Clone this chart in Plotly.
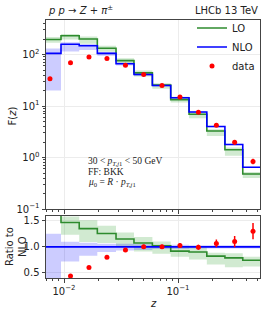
import numpy as np
import plotly.graph_objects as go

# ---------------- data ----------------
bin_edges = [0.00654, 0.00941, 0.0136, 0.0196, 0.0286, 0.0411, 0.0596,
             0.0863, 0.125, 0.179, 0.258, 0.370, 0.524]
z_data = [0.00753, 0.0114, 0.01656, 0.0238, 0.0346, 0.050, 0.0724,
          0.104, 0.151, 0.217, 0.314, 0.455]

lo_vals = [195, 232, 200, 132, 76, 44, 25.5, 13.3, 6.9, 3.28, 1.41, 0.478]
lo_band_lo = [0.87, 0.84, 0.81, 0.855, 0.875, 0.85, 0.85, 0.88, 0.84, 0.80, 0.77, 0.84]
lo_band_hi = [1.12, 1.08, 1.12, 1.12, 1.11, 1.11, 1.08, 1.09, 1.10, 1.08, 1.11, 1.09]

nlo_vals = [105, 158, 148, 105, 66, 41, 25.0, 14.5, 7.66, 3.99, 1.79, 0.645]
nlo_band_lo = [0.19, 0.72, 0.83, 0.90, 0.93, 0.94, 0.96, 0.96, 0.97, 0.97, 0.97, 0.97]
nlo_band_hi = [1.25, 1.10, 1.08, 1.06, 1.06, 1.05, 1.04, 1.04, 1.03, 1.03, 1.03, 1.03]

data_vals = [34, 69, 89, 84, 62, 41, 25.0, 14.9, 7.6, 4.25, 1.97, 0.84]
data_rel_err = [0.06, 0.04, 0.04, 0.04, 0.04, 0.04, 0.04, 0.04, 0.05, 0.07, 0.10, 0.12]

y_tick_vals = [0.1, 1, 10, 100]
y_tick_text = ["10<sup>−1</sup>", "10<sup>0</sup>", "10<sup>1</sup>", "10<sup>2</sup>"]
x_tick_vals = [0.01, 0.1]
x_tick_text = ["10<sup>−2</sup>", "10<sup>−1</sup>"]
r_tick_vals = [0.5, 1.0, 1.5]
r_tick_text = ["0.5", "1.0", "1.5"]

# ---------------- helpers ----------------
lo = np.array(lo_vals)
nlo = np.array(nlo_vals)
dat = np.array(data_vals)
edges = np.array(bin_edges)


def step_y(v):
    v = np.asarray(v, dtype=float)
    return np.append(v, v[-1])


GREEN = "#2e8b2e"
GREEN_FILL = "rgba(44,160,44,0.22)"
BLUE = "#0000ff"
BLUE_FILL = "rgba(0,0,255,0.2)"
RED = "#ff0000"

fig = go.Figure()


def add_band(lower, upper, fill, xa, ya):
    fig.add_trace(go.Scatter(x=edges, y=step_y(lower), mode="lines",
                             line=dict(width=0, shape="hv"), showlegend=False,
                             hoverinfo="skip", xaxis=xa, yaxis=ya))
    fig.add_trace(go.Scatter(x=edges, y=step_y(upper), mode="lines",
                             line=dict(width=0, shape="hv"), fill="tonexty",
                             fillcolor=fill, showlegend=False,
                             hoverinfo="skip", xaxis=xa, yaxis=ya))


# ---- top panel ----
add_band(lo * np.array(lo_band_lo), lo * np.array(lo_band_hi), GREEN_FILL, "x", "y")
add_band(nlo * np.array(nlo_band_lo), nlo * np.array(nlo_band_hi), BLUE_FILL, "x", "y")
fig.add_trace(go.Scatter(x=edges, y=step_y(lo), mode="lines", name="LO",
                         line=dict(color=GREEN, width=1.6, shape="hv"),
                         xaxis="x", yaxis="y"))
fig.add_trace(go.Scatter(x=edges, y=step_y(nlo), mode="lines", name="NLO",
                         line=dict(color=BLUE, width=1.6, shape="hv"),
                         xaxis="x", yaxis="y"))
fig.add_trace(go.Scatter(x=z_data, y=dat, mode="markers", name="data",
                         marker=dict(color=RED, size=5),
                         error_y=dict(type="data", array=dat * np.array(data_rel_err),
                                      color=RED, thickness=1.5, width=0),
                         xaxis="x", yaxis="y"))

# ---- ratio panel ----
add_band(np.array(lo_band_lo) * lo / nlo, np.array(lo_band_hi) * lo / nlo, GREEN_FILL, "x2", "y2")
add_band(nlo_band_lo, nlo_band_hi, BLUE_FILL, "x2", "y2")
fig.add_trace(go.Scatter(x=edges, y=step_y(lo / nlo), mode="lines", showlegend=False,
                         line=dict(color=GREEN, width=1.6, shape="hv"),
                         xaxis="x2", yaxis="y2"))
fig.add_trace(go.Scatter(x=edges, y=step_y(nlo / nlo), mode="lines", showlegend=False,
                         line=dict(color=BLUE, width=1.6, shape="hv"),
                         xaxis="x2", yaxis="y2"))
fig.add_trace(go.Scatter(x=z_data, y=dat / nlo, mode="markers", showlegend=False,
                         marker=dict(color=RED, size=5),
                         error_y=dict(type="data", array=dat * np.array(data_rel_err) / nlo,
                                      color=RED, thickness=1.5, width=0),
                         xaxis="x2", yaxis="y2"))

# ---------------- axes ----------------
minor_x = [m * 10.0 ** k for k in (-3, -2, -1) for m in range(2, 10)]
minor_y = [m * 10.0 ** k for k in (-1, 0, 1, 2) for m in range(2, 10)]
xr = [np.log10(0.00695), np.log10(0.524)]
axis_common = dict(showline=True, linecolor="#444", linewidth=1, mirror=True,
                   ticks="outside", ticklen=3.5, tickcolor="#444",
                   gridcolor="#ececec", gridwidth=1, zeroline=False,
                   tickfont=dict(family="DejaVu Sans", size=10, color="#222"))
minor_common = dict(ticks="outside", ticklen=2, tickcolor="#444", showgrid=False)

fig.update_layout(
    width=267, height=312,
    margin=dict(l=46, r=7, t=20, b=34),
    paper_bgcolor="white", plot_bgcolor="white",
    showlegend=True,
    legend=dict(x=1.0, y=1.025, xanchor="right", yanchor="top",
                bgcolor="rgba(255,255,255,0)", borderwidth=0, traceorder="normal",
                font=dict(family="DejaVu Sans", size=10, color="#222"),
                tracegroupgap=0, itemwidth=30),
    xaxis=dict(type="log", range=xr, domain=[0, 1], anchor="y",
               tickmode="array", tickvals=x_tick_vals, showticklabels=False,
               minor=dict(tickmode="array", tickvals=minor_x, **minor_common),
               **axis_common),
    yaxis=dict(type="log", range=[-1, 2.67], domain=[0.2674, 1], anchor="x",
               tickmode="array", tickvals=y_tick_vals, ticktext=y_tick_text,
               minor=dict(tickmode="array", tickvals=minor_y, **minor_common),
               **axis_common),
    xaxis2=dict(type="log", range=xr, domain=[0, 1], anchor="y2", matches="x",
                tickmode="array", tickvals=x_tick_vals, ticktext=x_tick_text,
                minor=dict(tickmode="array", tickvals=minor_x, **minor_common),
                **axis_common),
    yaxis2=dict(range=[0.4, 1.6], domain=[0, 0.2415], anchor="x2",
                tickmode="array", tickvals=r_tick_vals, ticktext=r_tick_text,
                **axis_common),
)

ann_font = dict(family="DejaVu Sans", size=10, color="#222")
serif = dict(family="Liberation Serif", size=9.5, color="#222")
fig.add_annotation(text="<i>p p</i> → <i>Z</i> + <i>π</i><sup>±</sup>", xref="paper", yref="paper",
                   x=0.0, y=1.0, xanchor="left", yanchor="bottom", yshift=2,
                   showarrow=False, font=ann_font)
fig.add_annotation(text="LHCb 13 TeV", xref="paper", yref="paper",
                   x=1.0, y=1.0, xanchor="right", yanchor="bottom", yshift=2,
                   showarrow=False, font=ann_font)
fig.add_annotation(text="F(<i>z</i>)", xref="paper", yref="paper",
                   x=-0.159, y=0.63, xanchor="center", yanchor="middle",
                   textangle=-90, showarrow=False, font=ann_font)
fig.add_annotation(text="Ratio to<br>NLO", xref="paper", yref="paper",
                   x=-0.14, y=0.12, xanchor="center", yanchor="middle",
                   textangle=-90, showarrow=False, font=ann_font)
fig.add_annotation(text="<i>z</i>", xref="paper", yref="paper",
                   x=0.5, y=-0.097, xanchor="center", yanchor="middle",
                   showarrow=False, font=ann_font)
info_lines = ["30 &lt; <i>p</i><sub><i>T,j</i>1</sub> &lt; 50 GeV",
              "FF: BKK",
              "<i>μ</i><sub>0</sub> = <i>R</i> · <i>p</i><sub><i>T,j</i>1</sub>"]
for i, t in enumerate(info_lines):
    fig.add_annotation(text=t, xref="paper", yref="paper",
                       x=0.187, y=(278.0 - (161 + 10.8 * i)) / 258.0,
                       xanchor="left", yanchor="middle", showarrow=False, font=serif)

# remove the default 8 px page margin so the figure fills the window exactly
fig.write_html("out.html", config={"displayModeBar": False},
               post_script="document.body.style.margin='0';")
